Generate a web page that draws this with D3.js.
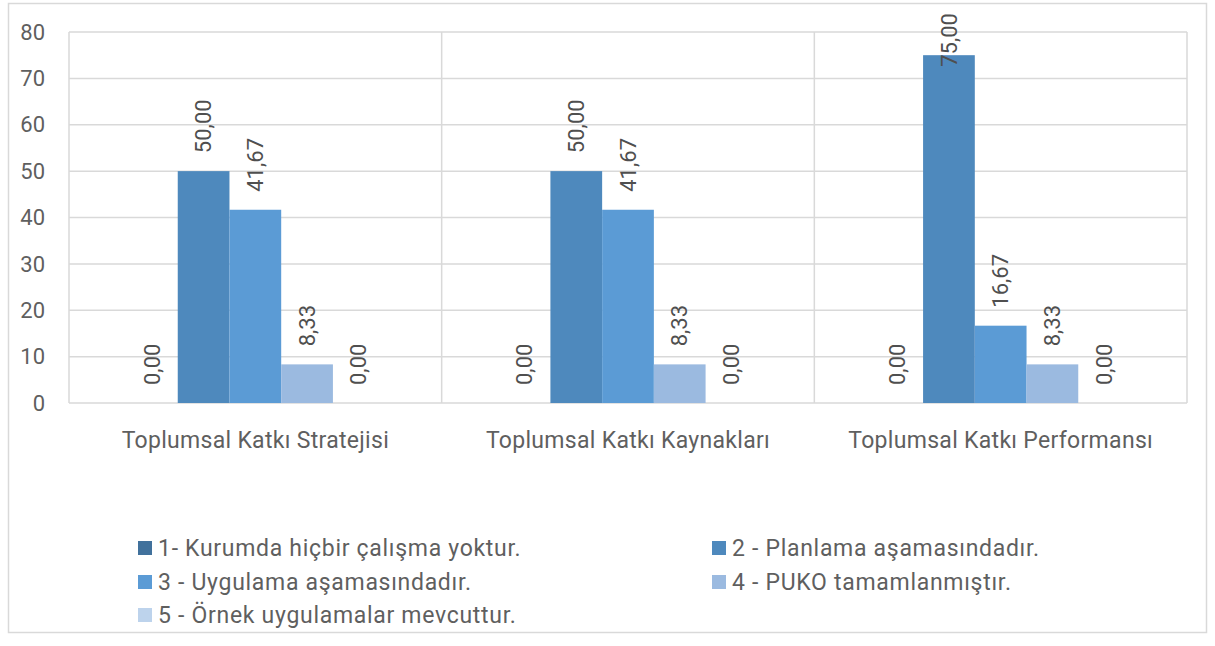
<!DOCTYPE html>
<html lang="tr">
<head>
<meta charset="UTF-8">
<title>Toplumsal Katkı</title>
<style>
    body { margin: 0; background: #fff; font-family: Roboto, "DejaVu Sans", sans-serif; }
    .grid line { stroke: #d9d9d9; stroke-width: 1.5; }
    .tick-label { fill: #5f5f5f; font-size: 22px; }
    .cat-label { fill: #5f5f5f; font-size: 23px; letter-spacing: 0.3px; }
    .legend text { fill: #5f5f5f; font-size: 23px; letter-spacing: 0.7px; }
    .value-label { fill: #4f4f4f; font-size: 22px; }
</style>
</head>
<body>
<div id="chart"></div>
<script src="https://d3js.org/d3.v7.min.js"></script>
<script>
    const categories = ["Toplumsal Katkı Stratejisi", "Toplumsal Katkı Kaynakları", "Toplumsal Katkı Performansı"];
    const seriesNames = [
        "1- Kurumda hiçbir çalışma yoktur.",
        "2 - Planlama aşamasındadır.",
        "3 - Uygulama aşamasındadır.",
        "4 - PUKO tamamlanmıştır.",
        "5 - Örnek uygulamalar mevcuttur."
    ];
    // one array per series, values per category
    const s1 = [0, 0, 0];
    const s2 = [50, 50, 75];
    const s3 = [41.67, 41.67, 16.67];
    const s4 = [8.33, 8.33, 8.33];
    const s5 = [0, 0, 0];
    const yTicks = [0, 10, 20, 30, 40, 50, 60, 70, 80];
    const colors = ["#41719c", "#4e89bd", "#5b9bd5", "#9bbae0", "#bdd3ec"];

    const seriesValues = [s1, s2, s3, s4, s5];

    const width = 1215, height = 646;
    const plot = { left: 69, right: 1187, top: 32, bottom: 403 };

    const svg = d3.select("#chart").append("svg")
        .attr("width", width)
        .attr("height", height);

    // outer chart border
    svg.append("rect")
        .attr("x", 8.5).attr("y", 3.5)
        .attr("width", 1198).attr("height", 629)
        .attr("fill", "none")
        .attr("stroke", "#d9d9d9")
        .attr("stroke-width", 1.5);

    const y = d3.scaleLinear().domain([0, 80]).range([plot.bottom, plot.top]);
    const x0 = d3.scaleBand().domain(categories).range([plot.left, plot.right]);
    const groupPad = 0.153; // empty share on each side of a group
    const x1 = d3.scaleBand().domain(d3.range(5))
        .range([x0.bandwidth() * groupPad, x0.bandwidth() * (1 - groupPad)]);

    const fmt = d3.formatLocale({ decimal: ",", thousands: ".", grouping: [3], currency: ["", ""] }).format(".2f");

    const grid = svg.append("g").attr("class", "grid");
    grid.selectAll(".h").data(yTicks).join("line")
        .attr("x1", plot.left).attr("x2", plot.right)
        .attr("y1", d => y(d)).attr("y2", d => y(d));
    const bounds = categories.map(c => x0(c)).concat([plot.right]);
    grid.selectAll(".v").data(bounds).join("line")
        .attr("x1", d => d).attr("x2", d => d)
        .attr("y1", plot.top).attr("y2", plot.bottom);

    svg.append("g").selectAll("text").data(yTicks).join("text")
        .attr("class", "tick-label")
        .attr("x", 45)
        .attr("y", d => y(d))
        .attr("dy", "0.35em")
        .attr("text-anchor", "end")
        .text(d => d);

    svg.append("g").selectAll("text").data(categories).join("text")
        .attr("class", "cat-label")
        .attr("x", d => x0(d) + x0.bandwidth() / 2)
        .attr("y", 440)
        .attr("dy", "0.35em")
        .attr("text-anchor", "middle")
        .text(d => d);

    const barData = [];
    categories.forEach((c, ci) => {
        seriesValues.forEach((vals, si) => {
            barData.push({ cat: c, s: si, v: vals[ci] });
        });
    });

    svg.append("g").selectAll("rect").data(barData).join("rect")
        .attr("x", d => x0(d.cat) + x1(d.s))
        .attr("y", d => y(d.v))
        .attr("width", x1.bandwidth())
        .attr("height", d => plot.bottom - y(d.v))
        .attr("fill", d => colors[d.s]);

    svg.append("g").selectAll("text").data(barData).join("text")
        .attr("class", "value-label")
        .attr("text-anchor", "start")
        .attr("dy", "0.35em")
        .text(d => fmt(d.v))
        .each(function (d) {
            const len = this.getComputedTextLength();
            const cx = x0(d.cat) + x1(d.s) + x1.bandwidth() / 2;
            const cy = Math.max(y(d.v) - 18, 13 + len);
            d3.select(this).attr("transform", `translate(${cx},${cy}) rotate(-90)`);
        });

    const legendPos = [
        [138, 548], [712, 548],
        [138, 582], [712, 582],
        [138, 615]
    ];
    const legend = svg.append("g").attr("class", "legend")
        .selectAll("g").data(seriesNames).join("g")
        .attr("transform", (d, i) => `translate(${legendPos[i][0]},${legendPos[i][1]})`);
    legend.append("rect")
        .attr("x", 0).attr("y", -7)
        .attr("width", 14).attr("height", 14)
        .attr("fill", (d, i) => colors[i]);
    legend.append("text")
        .attr("x", 20)
        .attr("dy", "0.35em")
        .text(d => d);
</script>
</body>
</html>
